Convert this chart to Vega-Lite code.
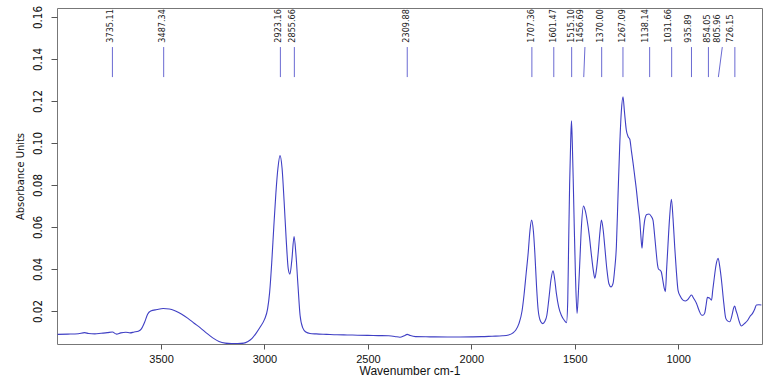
{
  "$schema": "https://vega.github.io/schema/vega-lite/v6.json",
  "width": 705,
  "height": 336,
  "autosize": {"type": "none"},
  "padding": {"left": 57, "top": 8, "right": 6, "bottom": 36},
  "background": "white",
  "config": {
    "view": {"stroke": "#777", "strokeWidth": 1},
    "axis": {"grid": false, "domain": false, "tickColor": "#555", "labelColor": "#111", "titleColor": "#111", "titleFontWeight": "normal"}
  },
  "datasets": {
    "spectrum": [
      {"wn": 4000, "abs": 0.0089}, {"wn": 3950, "abs": 0.0090}, {"wn": 3900, "abs": 0.0092}, {"wn": 3870, "abs": 0.0097},
      {"wn": 3850, "abs": 0.0093}, {"wn": 3820, "abs": 0.0091}, {"wn": 3790, "abs": 0.0094}, {"wn": 3760, "abs": 0.0097},
      {"wn": 3735, "abs": 0.0100}, {"wn": 3715, "abs": 0.0090}, {"wn": 3695, "abs": 0.0096}, {"wn": 3670, "abs": 0.0099},
      {"wn": 3650, "abs": 0.0096}, {"wn": 3630, "abs": 0.0100}, {"wn": 3610, "abs": 0.0104}, {"wn": 3595, "abs": 0.0115},
      {"wn": 3580, "abs": 0.0145}, {"wn": 3565, "abs": 0.0185}, {"wn": 3550, "abs": 0.0200}, {"wn": 3520, "abs": 0.0207},
      {"wn": 3490, "abs": 0.0212}, {"wn": 3460, "abs": 0.0210}, {"wn": 3430, "abs": 0.0200}, {"wn": 3400, "abs": 0.0185},
      {"wn": 3370, "abs": 0.0165}, {"wn": 3340, "abs": 0.0142}, {"wn": 3310, "abs": 0.0120}, {"wn": 3280, "abs": 0.0095},
      {"wn": 3250, "abs": 0.0072}, {"wn": 3220, "abs": 0.0055}, {"wn": 3190, "abs": 0.0047}, {"wn": 3160, "abs": 0.0045},
      {"wn": 3130, "abs": 0.0045}, {"wn": 3100, "abs": 0.0047}, {"wn": 3080, "abs": 0.0055}, {"wn": 3060, "abs": 0.0070},
      {"wn": 3040, "abs": 0.0095}, {"wn": 3020, "abs": 0.0125}, {"wn": 3000, "abs": 0.0160}, {"wn": 2985, "abs": 0.0210},
      {"wn": 2975, "abs": 0.0290}, {"wn": 2965, "abs": 0.0430}, {"wn": 2955, "abs": 0.0600}, {"wn": 2945, "abs": 0.0760},
      {"wn": 2935, "abs": 0.0880}, {"wn": 2925, "abs": 0.0940}, {"wn": 2915, "abs": 0.0880}, {"wn": 2905, "abs": 0.0720},
      {"wn": 2895, "abs": 0.0540}, {"wn": 2885, "abs": 0.0400}, {"wn": 2877, "abs": 0.0375}, {"wn": 2868, "abs": 0.0440},
      {"wn": 2857, "abs": 0.0555}, {"wn": 2848, "abs": 0.0470}, {"wn": 2838, "abs": 0.0320}, {"wn": 2828, "abs": 0.0180},
      {"wn": 2815, "abs": 0.0120}, {"wn": 2800, "abs": 0.0100}, {"wn": 2780, "abs": 0.0093}, {"wn": 2750, "abs": 0.0091},
      {"wn": 2700, "abs": 0.0089}, {"wn": 2650, "abs": 0.0087}, {"wn": 2600, "abs": 0.0086}, {"wn": 2550, "abs": 0.0085},
      {"wn": 2500, "abs": 0.0084}, {"wn": 2450, "abs": 0.0083}, {"wn": 2400, "abs": 0.0082}, {"wn": 2370, "abs": 0.0079},
      {"wn": 2345, "abs": 0.0075}, {"wn": 2325, "abs": 0.0082}, {"wn": 2310, "abs": 0.0089}, {"wn": 2295, "abs": 0.0083},
      {"wn": 2270, "abs": 0.0078}, {"wn": 2200, "abs": 0.0077}, {"wn": 2100, "abs": 0.0076}, {"wn": 2000, "abs": 0.0077},
      {"wn": 1950, "abs": 0.0078}, {"wn": 1900, "abs": 0.0080}, {"wn": 1850, "abs": 0.0082}, {"wn": 1820, "abs": 0.0086},
      {"wn": 1800, "abs": 0.0095}, {"wn": 1785, "abs": 0.0110}, {"wn": 1770, "abs": 0.0140}, {"wn": 1755, "abs": 0.0200},
      {"wn": 1745, "abs": 0.0280}, {"wn": 1735, "abs": 0.0380}, {"wn": 1725, "abs": 0.0480}, {"wn": 1717, "abs": 0.0580},
      {"wn": 1709, "abs": 0.0633}, {"wn": 1700, "abs": 0.0580}, {"wn": 1693, "abs": 0.0475}, {"wn": 1685, "abs": 0.0320},
      {"wn": 1677, "abs": 0.0205}, {"wn": 1665, "abs": 0.0150}, {"wn": 1655, "abs": 0.0140}, {"wn": 1645, "abs": 0.0150},
      {"wn": 1635, "abs": 0.0180}, {"wn": 1625, "abs": 0.0260}, {"wn": 1615, "abs": 0.0350}, {"wn": 1605, "abs": 0.0392},
      {"wn": 1597, "abs": 0.0350}, {"wn": 1589, "abs": 0.0284}, {"wn": 1578, "abs": 0.0220}, {"wn": 1565, "abs": 0.0180},
      {"wn": 1550, "abs": 0.0155}, {"wn": 1540, "abs": 0.0145}, {"wn": 1534, "abs": 0.0250}, {"wn": 1530, "abs": 0.0500},
      {"wn": 1525, "abs": 0.0800}, {"wn": 1520, "abs": 0.1000}, {"wn": 1516, "abs": 0.1106}, {"wn": 1512, "abs": 0.1000},
      {"wn": 1507, "abs": 0.0800}, {"wn": 1503, "abs": 0.0620}, {"wn": 1497, "abs": 0.0380}, {"wn": 1489, "abs": 0.0189},
      {"wn": 1483, "abs": 0.0280}, {"wn": 1476, "abs": 0.0427}, {"wn": 1468, "abs": 0.0600}, {"wn": 1458, "abs": 0.0700},
      {"wn": 1450, "abs": 0.0680}, {"wn": 1440, "abs": 0.0630}, {"wn": 1430, "abs": 0.0560}, {"wn": 1420, "abs": 0.0470},
      {"wn": 1410, "abs": 0.0390}, {"wn": 1403, "abs": 0.0356}, {"wn": 1395, "abs": 0.0400}, {"wn": 1387, "abs": 0.0475},
      {"wn": 1378, "abs": 0.0580}, {"wn": 1371, "abs": 0.0633}, {"wn": 1362, "abs": 0.0580}, {"wn": 1355, "abs": 0.0506},
      {"wn": 1345, "abs": 0.0400}, {"wn": 1335, "abs": 0.0330}, {"wn": 1325, "abs": 0.0315}, {"wn": 1315, "abs": 0.0332},
      {"wn": 1307, "abs": 0.0400}, {"wn": 1299, "abs": 0.0506}, {"wn": 1291, "abs": 0.0750}, {"wn": 1283, "abs": 0.0982},
      {"wn": 1275, "abs": 0.1150}, {"wn": 1267, "abs": 0.1220}, {"wn": 1260, "abs": 0.1150}, {"wn": 1251, "abs": 0.1062},
      {"wn": 1242, "abs": 0.1030}, {"wn": 1234, "abs": 0.1018}, {"wn": 1226, "abs": 0.0960}, {"wn": 1218, "abs": 0.0903},
      {"wn": 1210, "abs": 0.0840}, {"wn": 1202, "abs": 0.0776}, {"wn": 1194, "abs": 0.0700}, {"wn": 1186, "abs": 0.0633},
      {"wn": 1180, "abs": 0.0550}, {"wn": 1175, "abs": 0.0499}, {"wn": 1170, "abs": 0.0560}, {"wn": 1162, "abs": 0.0633},
      {"wn": 1152, "abs": 0.0660}, {"wn": 1141, "abs": 0.0662}, {"wn": 1130, "abs": 0.0650}, {"wn": 1122, "abs": 0.0633},
      {"wn": 1114, "abs": 0.0560}, {"wn": 1106, "abs": 0.0475}, {"wn": 1100, "abs": 0.0420}, {"wn": 1095, "abs": 0.0399},
      {"wn": 1088, "abs": 0.0395}, {"wn": 1082, "abs": 0.0387}, {"wn": 1075, "abs": 0.0350}, {"wn": 1068, "abs": 0.0310},
      {"wn": 1062, "abs": 0.0292}, {"wn": 1056, "abs": 0.0400}, {"wn": 1050, "abs": 0.0506}, {"wn": 1042, "abs": 0.0640},
      {"wn": 1033, "abs": 0.0732}, {"wn": 1025, "abs": 0.0640}, {"wn": 1017, "abs": 0.0506}, {"wn": 1009, "abs": 0.0390},
      {"wn": 1001, "abs": 0.0300}, {"wn": 990, "abs": 0.0270}, {"wn": 977, "abs": 0.0252}, {"wn": 965, "abs": 0.0248},
      {"wn": 953, "abs": 0.0255}, {"wn": 944, "abs": 0.0268}, {"wn": 936, "abs": 0.0276}, {"wn": 925, "abs": 0.0260},
      {"wn": 912, "abs": 0.0237}, {"wn": 900, "abs": 0.0205}, {"wn": 888, "abs": 0.0181}, {"wn": 880, "abs": 0.0180},
      {"wn": 872, "abs": 0.0190}, {"wn": 865, "abs": 0.0230}, {"wn": 859, "abs": 0.0265}, {"wn": 849, "abs": 0.0262},
      {"wn": 839, "abs": 0.0252}, {"wn": 833, "abs": 0.0300}, {"wn": 827, "abs": 0.0348}, {"wn": 817, "abs": 0.0420},
      {"wn": 807, "abs": 0.0451}, {"wn": 799, "abs": 0.0410}, {"wn": 791, "abs": 0.0348}, {"wn": 780, "abs": 0.0240},
      {"wn": 770, "abs": 0.0165}, {"wn": 760, "abs": 0.0152}, {"wn": 751, "abs": 0.0149}, {"wn": 740, "abs": 0.0180},
      {"wn": 732, "abs": 0.0215}, {"wn": 727, "abs": 0.0224}, {"wn": 720, "abs": 0.0200}, {"wn": 716, "abs": 0.0189},
      {"wn": 705, "abs": 0.0150}, {"wn": 695, "abs": 0.0129}, {"wn": 680, "abs": 0.0140}, {"wn": 665, "abs": 0.0155},
      {"wn": 654, "abs": 0.0173}, {"wn": 640, "abs": 0.0190}, {"wn": 630, "abs": 0.0210}, {"wn": 622, "abs": 0.0229},
      {"wn": 610, "abs": 0.0230}, {"wn": 598, "abs": 0.0229}
    ],
    "peaks": [
      {"wn": 3735.11, "tx": 3735.11, "lx": 3745, "label": "3735.11"},
      {"wn": 3487.34, "tx": 3487.34, "lx": 3495, "label": "3487.34"},
      {"wn": 2923.16, "tx": 2923.16, "lx": 2937, "label": "2923.16"},
      {"wn": 2855.66, "tx": 2855.66, "lx": 2866, "label": "2855.66"},
      {"wn": 2309.88, "tx": 2309.88, "lx": 2316, "label": "2309.88"},
      {"wn": 1707.36, "tx": 1707.36, "lx": 1712, "label": "1707.36"},
      {"wn": 1601.47, "tx": 1601.47, "lx": 1606, "label": "1601.47"},
      {"wn": 1515.10, "tx": 1515.10, "lx": 1519, "label": "1515.10"},
      {"wn": 1456.69, "tx": 1451, "lx": 1476, "label": "1456.69"},
      {"wn": 1370.00, "tx": 1370.00, "lx": 1377, "label": "1370.00"},
      {"wn": 1267.09, "tx": 1267.09, "lx": 1270, "label": "1267.09"},
      {"wn": 1138.14, "tx": 1138.14, "lx": 1160, "label": "1138.14"},
      {"wn": 1031.66, "tx": 1031.66, "lx": 1049, "label": "1031.66"},
      {"wn": 935.89, "tx": 935.89, "lx": 952, "label": "935.89"},
      {"wn": 854.05, "tx": 854.05, "lx": 860, "label": "854.05"},
      {"wn": 805.96, "tx": 787, "lx": 811, "label": "805.96"},
      {"wn": 726.15, "tx": 726.15, "lx": 749, "label": "726.15"}
    ]
  },
  "layer": [
    {
      "data": {"name": "spectrum"},
      "mark": {"type": "line", "color": "#3f3fc4", "strokeWidth": 1.1, "clip": true, "interpolate": "monotone"},
      "encoding": {
        "x": {
          "field": "wn", "type": "quantitative",
          "scale": {"domain": [595, 4003], "reverse": true, "nice": false, "zero": false},
          "axis": {
            "values": [1000, 1500, 2000, 2500, 3000, 3500], "format": "d",
            "title": "Wavenumber cm-1", "titleFont": "Liberation Sans", "titleFontSize": 12, "titlePadding": 1,
            "labelFont": "Liberation Sans", "labelFontSize": 11, "tickSize": 5, "labelPadding": 4
          }
        },
        "y": {
          "field": "abs", "type": "quantitative",
          "scale": {"domain": [0.0043, 0.1643], "nice": false, "zero": false},
          "axis": {
            "values": [0.02, 0.04, 0.06, 0.08, 0.1, 0.12, 0.14, 0.16], "format": ".2f",
            "title": "Absorbance Units", "titleFont": "DejaVu Sans Condensed, Liberation Sans", "titleFontSize": 11, "titlePadding": 7,
            "labelFont": "DejaVu Sans Condensed, Liberation Sans", "labelFontSize": 11.5, "labelAngle": 270,
            "labelAlign": "center", "labelBaseline": "bottom", "tickSize": 6, "labelPadding": 8
          }
        }
      }
    },
    {
      "data": {"name": "peaks"},
      "mark": {"type": "rule", "color": "#6a6ad2", "strokeWidth": 1},
      "encoding": {
        "x": {"field": "tx", "type": "quantitative"},
        "x2": {"field": "wn"},
        "y": {"datum": 0.1457},
        "y2": {"datum": 0.1314}
      }
    },
    {
      "data": {"name": "peaks"},
      "mark": {"type": "text", "angle": 270, "align": "left", "baseline": "middle", "font": "DejaVu Sans Condensed, Liberation Sans", "fontSize": 9, "color": "#222"},
      "encoding": {
        "x": {"field": "lx", "type": "quantitative"},
        "y": {"datum": 0.1478},
        "text": {"field": "label"}
      }
    }
  ]
}
